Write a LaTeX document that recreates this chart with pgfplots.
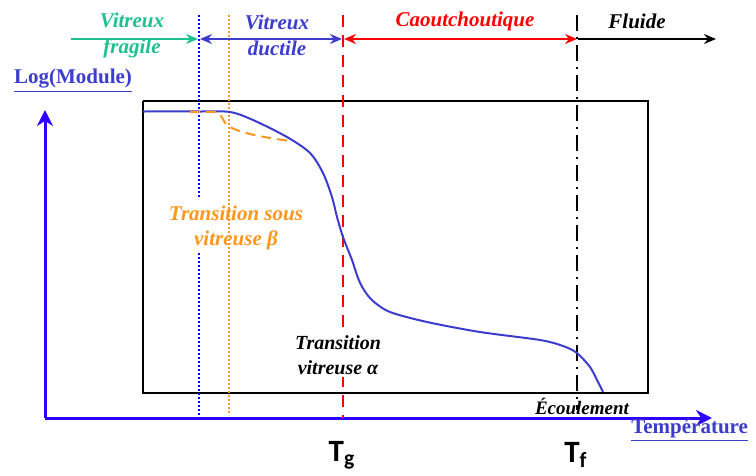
\documentclass[border=0pt]{standalone}
\usepackage{pgfplots}
\pgfplotsset{compat=1.18}
\usepackage{fontspec}
\setmainfont{Liberation Serif}
\newfontfamily\tfont{Carlito}
\usetikzlibrary{arrows.meta}
\definecolor{cgreen}{RGB}{30,192,142}
\definecolor{cblue}{RGB}{60,60,205}
\definecolor{caxis}{RGB}{45,0,255}
\definecolor{corange}{RGB}{255,150,30}
\begin{document}
\begin{tikzpicture}
\begin{axis}[
    scale only axis, width=378pt, height=236pt,
    xmin=0, xmax=756, ymin=0, ymax=472, y dir=reverse,
    axis lines=none, clip=false,
]
% page extent
\addplot[draw=none] coordinates {(0,0)(756,0)(756,472)(0,472)};
% frame
\addplot[black, line width=1pt] coordinates {(143,101)(648,101)(648,393)(143,393)(143,101)};
% axes
\addplot[caxis, line width=1.5pt, -{Stealth[length=8pt,width=8pt]}] coordinates {(45,418)(45,110)};
\addplot[caxis, line width=1.5pt, -{Stealth[length=8pt,width=8pt]}] coordinates {(45,418)(712,418)};
% vertical markers
\addplot[blue, densely dotted, line width=1pt] coordinates {(199,15)(199,198)};
\addplot[blue, densely dotted, line width=1pt] coordinates {(199,253)(199,415)};
\addplot[corange, densely dotted, line width=1pt] coordinates {(229,15)(229,415)};
\addplot[red, dash pattern=on 6pt off 4pt, line width=1pt] coordinates {(343,15)(343,418)};
\addplot[black, dash pattern=on 8pt off 3pt on 1pt off 3pt, line width=0.8pt] coordinates {(577,15)(577,410)};
% top arrows
\addplot[cgreen, line width=1.2pt, -{Stealth[length=6pt,width=5pt]}] coordinates {(71,39)(198,39)};
\addplot[cblue, line width=1.2pt, {Stealth[length=6pt,width=5pt]}-{Stealth[length=6pt,width=5pt]}] coordinates {(200,39)(342,39)};
\addplot[red, line width=1.2pt, {Stealth[length=6pt,width=5pt]}-{Stealth[length=6pt,width=5pt]}] coordinates {(344,39)(577,39)};
\addplot[black, line width=1.2pt, -{Stealth[length=6pt,width=5pt]}] coordinates {(578,39)(716,39)};
% modulus curve
\addplot[cblue, line width=1pt, smooth, tension=0.5] coordinates {
(143,111.5)(200,111.5)(230,112)(253,120)(287,137)(310,153)(323,173)(332,197)(337,217)
(343,237)(352,260)(358,278)(364,290)(373,301)(390,312)(427,322)(480,332)(540,340)
(563,346)(577,353)(590,367)(597,380)(603,392)};
% secondary relaxation
\addplot[corange, line width=1pt, dash pattern=on 5pt off 3pt, smooth, tension=0.5] coordinates {
(190,112)(216,112)(221,116)(226,124)(234,129)(250,134)(270,138)(290,141)};
% labels
\node[cgreen, font=\bfseries\itshape\fontsize{10.5}{13}\selectfont, align=center] at (axis cs:132,35) {Vitreux\\fragile};
\node[cblue, font=\bfseries\itshape\fontsize{10.5}{13}\selectfont, align=center] at (axis cs:277,35) {Vitreux\\ductile};
\node[red, font=\bfseries\itshape\fontsize{10.5}{11}\selectfont] at (axis cs:465,21) {Caoutchoutique};
\node[black, font=\bfseries\itshape\fontsize{10.5}{11}\selectfont] at (axis cs:637,21) {Fluide};
\node[cblue, font=\bfseries\fontsize{10.5}{11}\selectfont] at (axis cs:73,81) {\underline{Log(Module)}};
\node[cblue, font=\bfseries\fontsize{10.5}{11}\selectfont, anchor=east] at (axis cs:755,430) {\underline{Température}};
\node[corange, font=\bfseries\itshape\fontsize{10.5}{12.5}\selectfont, align=center] at (axis cs:236,228) {Transition sous\\vitreuse β};
\node[black, fill=white, inner sep=1pt, font=\bfseries\itshape\fontsize{10}{12.5}\selectfont, align=center] at (axis cs:338,355) {Transition\\vitreuse α};
\node[black, font=\bfseries\itshape\fontsize{9.5}{10}\selectfont] at (axis cs:582,406) {Écoulement};
\node[black, font=\tfont\bfseries\fontsize{15.5}{16}\selectfont] at (axis cs:342,455) {T\textsubscript{g}};
\node[black, font=\tfont\bfseries\fontsize{15.5}{16}\selectfont] at (axis cs:576,455) {T\textsubscript{f}};
\end{axis}
\end{tikzpicture}
\end{document}
